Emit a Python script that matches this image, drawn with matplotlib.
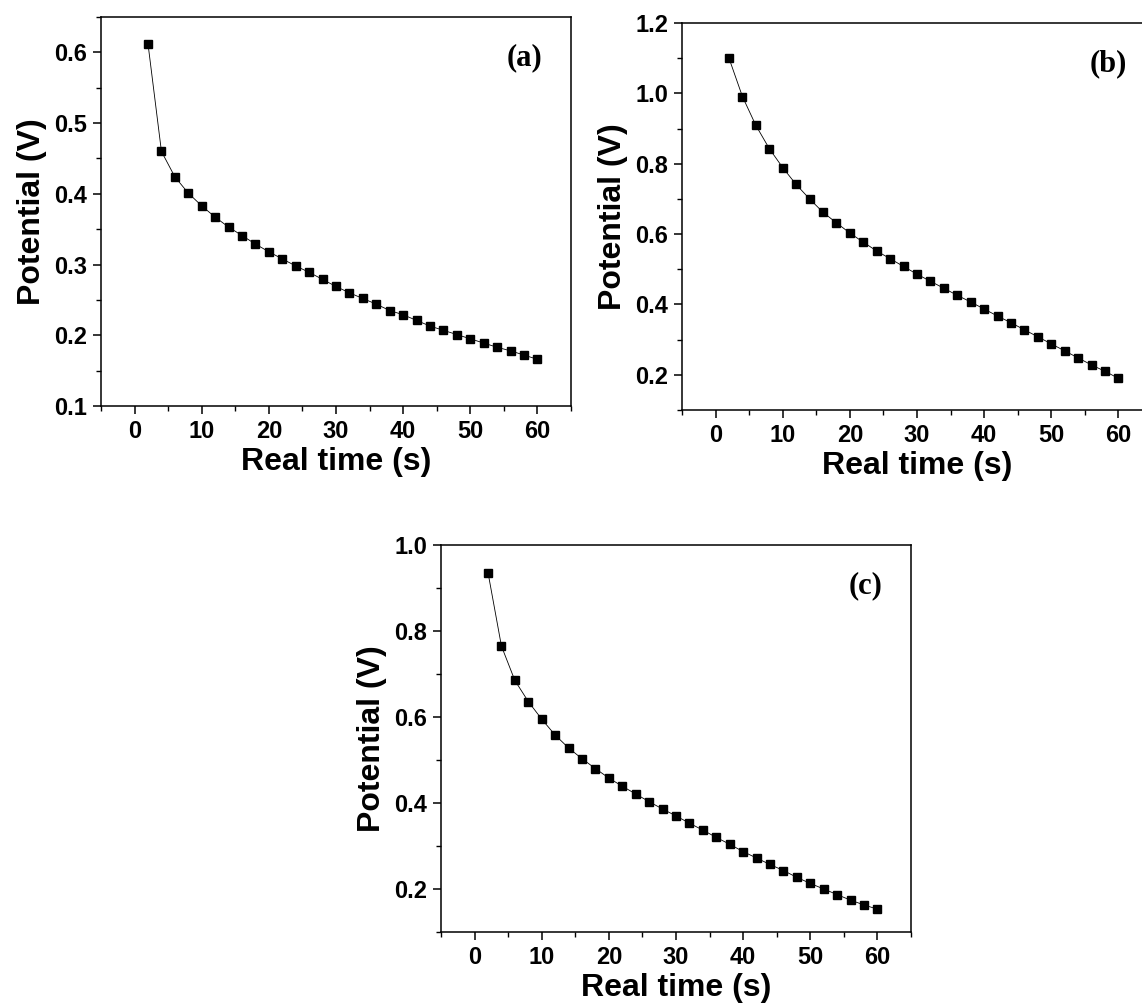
import numpy as np
import matplotlib.pyplot as plt

# temps réel (s)
time_s = list(range(2, 61, 2))

potential_a = [0.612, 0.460, 0.424, 0.401, 0.383, 0.367, 0.353, 0.341, 0.329, 0.318,
               0.308, 0.298, 0.289, 0.279, 0.269, 0.260, 0.252, 0.244, 0.235, 0.229,
               0.221, 0.213, 0.207, 0.201, 0.195, 0.189, 0.183, 0.178, 0.172, 0.166]
potential_b = [1.100, 0.991, 0.909, 0.843, 0.789, 0.741, 0.700, 0.662, 0.632, 0.603,
               0.577, 0.552, 0.530, 0.508, 0.486, 0.466, 0.446, 0.426, 0.407, 0.387,
               0.367, 0.348, 0.328, 0.308, 0.288, 0.268, 0.248, 0.228, 0.210, 0.190]
potential_c = [0.936, 0.765, 0.685, 0.636, 0.595, 0.558, 0.528, 0.503, 0.480, 0.458,
               0.439, 0.421, 0.403, 0.386, 0.370, 0.353, 0.337, 0.320, 0.304, 0.287,
               0.272, 0.257, 0.243, 0.227, 0.213, 0.200, 0.187, 0.174, 0.163, 0.153]

panel_labels = ["(a)", "(b)", "(c)"]

plt.rcParams['font.family'] = ['Liberation Sans', 'DejaVu Sans']
plt.rcParams['font.weight'] = 'bold'

W, H = 1142, 1007
fig = plt.figure(figsize=(W / 100, H / 100), dpi=100)


def make_axes(left, top, width, height):
    return fig.add_axes([left / W, 1 - (top + height) / H, width / W, height / H])


ax_a = make_axes(101, 17, 470, 389)
ax_b = make_axes(682, 23, 470, 387)
ax_c = make_axes(441, 545, 470, 387)

panels = [
    (ax_a, potential_a, (0.1, 0.65), np.arange(0.1, 0.61, 0.1), 0.05, (58.0, 0.592)),
    (ax_b, potential_b, (0.1, 1.2), np.arange(0.2, 1.21, 0.2), 0.1, (58.5, 1.085)),
    (ax_c, potential_c, (0.1, 1.0), np.arange(0.2, 1.01, 0.2), 0.1, (58.2, 0.905)),
]

for (ax, values, ylim, yticks, yminor, lab_pos), label in zip(panels, panel_labels):
    ax.plot(time_s, values, color="black", linewidth=0.6, marker="s",
            markersize=5.5, markerfacecolor="black", markeredgecolor="black")
    ax.set_xlim(-5, 65)
    ax.set_ylim(*ylim)
    ax.set_xticks(range(0, 61, 10))
    ax.set_xticks(np.arange(-5, 66, 10), minor=True)
    ax.set_yticks(yticks)
    ax.set_yticklabels(["%.1f" % v for v in yticks])
    ax.set_yticks(np.arange(ylim[0], ylim[1] + 1e-6, yminor), minor=True)
    ax.tick_params(which="major", direction="out", length=6, width=1.1,
                   labelsize=17, pad=4, top=False, right=False)
    ax.tick_params(which="minor", direction="out", length=3.5, width=1.0,
                   top=False, right=False)
    for sp in ax.spines.values():
        sp.set_linewidth(1.1)
    ax.set_xlabel("Real time (s)", fontsize=23, fontweight="bold", labelpad=3)
    ax.set_ylabel("Potential (V)", fontsize=23, fontweight="bold", labelpad=5)
    ax.text(lab_pos[0], lab_pos[1], label, ha="center", va="center",
            fontsize=22, fontweight="bold", family=["Liberation Serif", "DejaVu Serif"])

fig.savefig("out.png", dpi=100)
